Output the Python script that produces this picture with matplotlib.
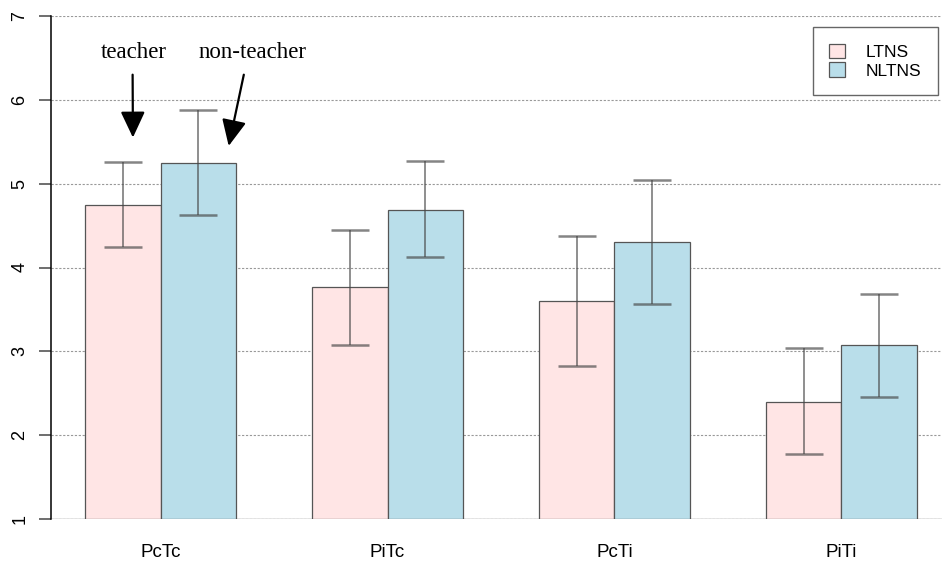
import matplotlib
matplotlib.use("Agg")
import matplotlib.pyplot as plt
import matplotlib.transforms as mtransforms
import numpy as np

# 条件与组别
conditions = ["PcTc", "PiTc", "PcTi", "PiTi"]
groups = ["LTNS", "NLTNS"]
y_ticks = [1, 2, 3, 4, 5, 6, 7]

# 均值
ltns_mean = [4.75, 3.77, 3.60, 2.40]
nltns_mean = [5.25, 4.69, 4.30, 3.07]

# 误差线上下端
ltns_low = [4.24, 3.08, 2.82, 1.77]
ltns_high = [5.26, 4.45, 4.37, 3.04]
nltns_low = [4.63, 4.12, 3.57, 2.46]
nltns_high = [5.88, 5.27, 5.04, 3.68]

colors = ["#FFE5E5", "#B9DEEA"]

fig = plt.figure(figsize=(9.42, 5.67), dpi=100)
ax = fig.add_axes([51 / 942, 48 / 567, 891 / 942, 503 / 567])

x0 = np.arange(len(conditions)) * 3 + 1.5
x1 = x0 + 1

ax.set_axisbelow(True)
ax.grid(axis="y", color="#999999", linestyle=(0, (2, 1.5)), linewidth=0.8)

ax.bar(x0, np.array(ltns_mean) - 1, width=1, bottom=1, color=colors[0],
       edgecolor="#555555", linewidth=0.9, label=groups[0], zorder=2)
ax.bar(x1, np.array(nltns_mean) - 1, width=1, bottom=1, color=colors[1],
       edgecolor="#555555", linewidth=0.9, label=groups[1], zorder=2)

for xs, m, lo, hi in [(x0, ltns_mean, ltns_low, ltns_high),
                      (x1, nltns_mean, nltns_low, nltns_high)]:
    m = np.array(m)
    err = [m - np.array(lo), np.array(hi) - m]
    ax.errorbar(xs, m, yerr=err, fmt="none", ecolor="#444444", alpha=0.65,
                elinewidth=1.3, capsize=13.7, capthick=1.8, zorder=3)

ax.set_xlim(0.551, 12.33)
ax.set_ylim(1, 7)
ax.set_yticks(y_ticks)
ax.set_yticklabels([])
ax.set_xticks((x0 + x1) / 2)
ax.set_xticklabels(conditions, fontsize=13.5, family="Liberation Sans")
ax.tick_params(axis="x", length=0, pad=18)
ax.tick_params(axis="y", length=8.6, color="#555555", width=1.2)

# 竖排的 y 轴刻度文字
trans = mtransforms.blended_transform_factory(ax.transAxes, ax.transData)
for v in y_ticks:
    ax.text(-31 / 891, v, str(v), transform=trans, rotation=90,
            ha="center", va="center", fontsize=13, family="Liberation Sans",
            clip_on=False)

for s in ["top", "right", "bottom"]:
    ax.spines[s].set_visible(False)
ax.spines["left"].set_color("black")
ax.spines["left"].set_linewidth(1.1)
ax.axhline(1, color="#888888", lw=1.0, zorder=1)

leg = ax.legend(loc="upper right", bbox_to_anchor=(0.9955, 0.978),
                borderaxespad=0,
                prop={"family": "Liberation Sans", "size": 12.5},
                fancybox=False, edgecolor="#666666", framealpha=1,
                handlelength=0.9, handleheight=0.9, handletextpad=1.2,
                borderpad=0.95, labelspacing=0.15)
leg.get_frame().set_linewidth(1.0)
for h in leg.legend_handles:
    h.set_edgecolor("#555555")

serif = {"family": "Liberation Serif", "size": 16.5}
ax.text(1.65, 6.57, "teacher", ha="center", va="center", **serif)
ax.text(3.21, 6.57, "non-teacher", ha="center", va="center", **serif)
arrow = dict(arrowstyle="-|>,head_length=1.6,head_width=0.75", color="black",
             lw=1.6, shrinkA=0, shrinkB=0)
ax.annotate("", xy=(1.634, 5.55), xytext=(1.63, 6.30), arrowprops=arrow)
ax.annotate("", xy=(2.90, 5.45), xytext=(3.10, 6.30), arrowprops=arrow)

fig.savefig("out.png", dpi=100)
